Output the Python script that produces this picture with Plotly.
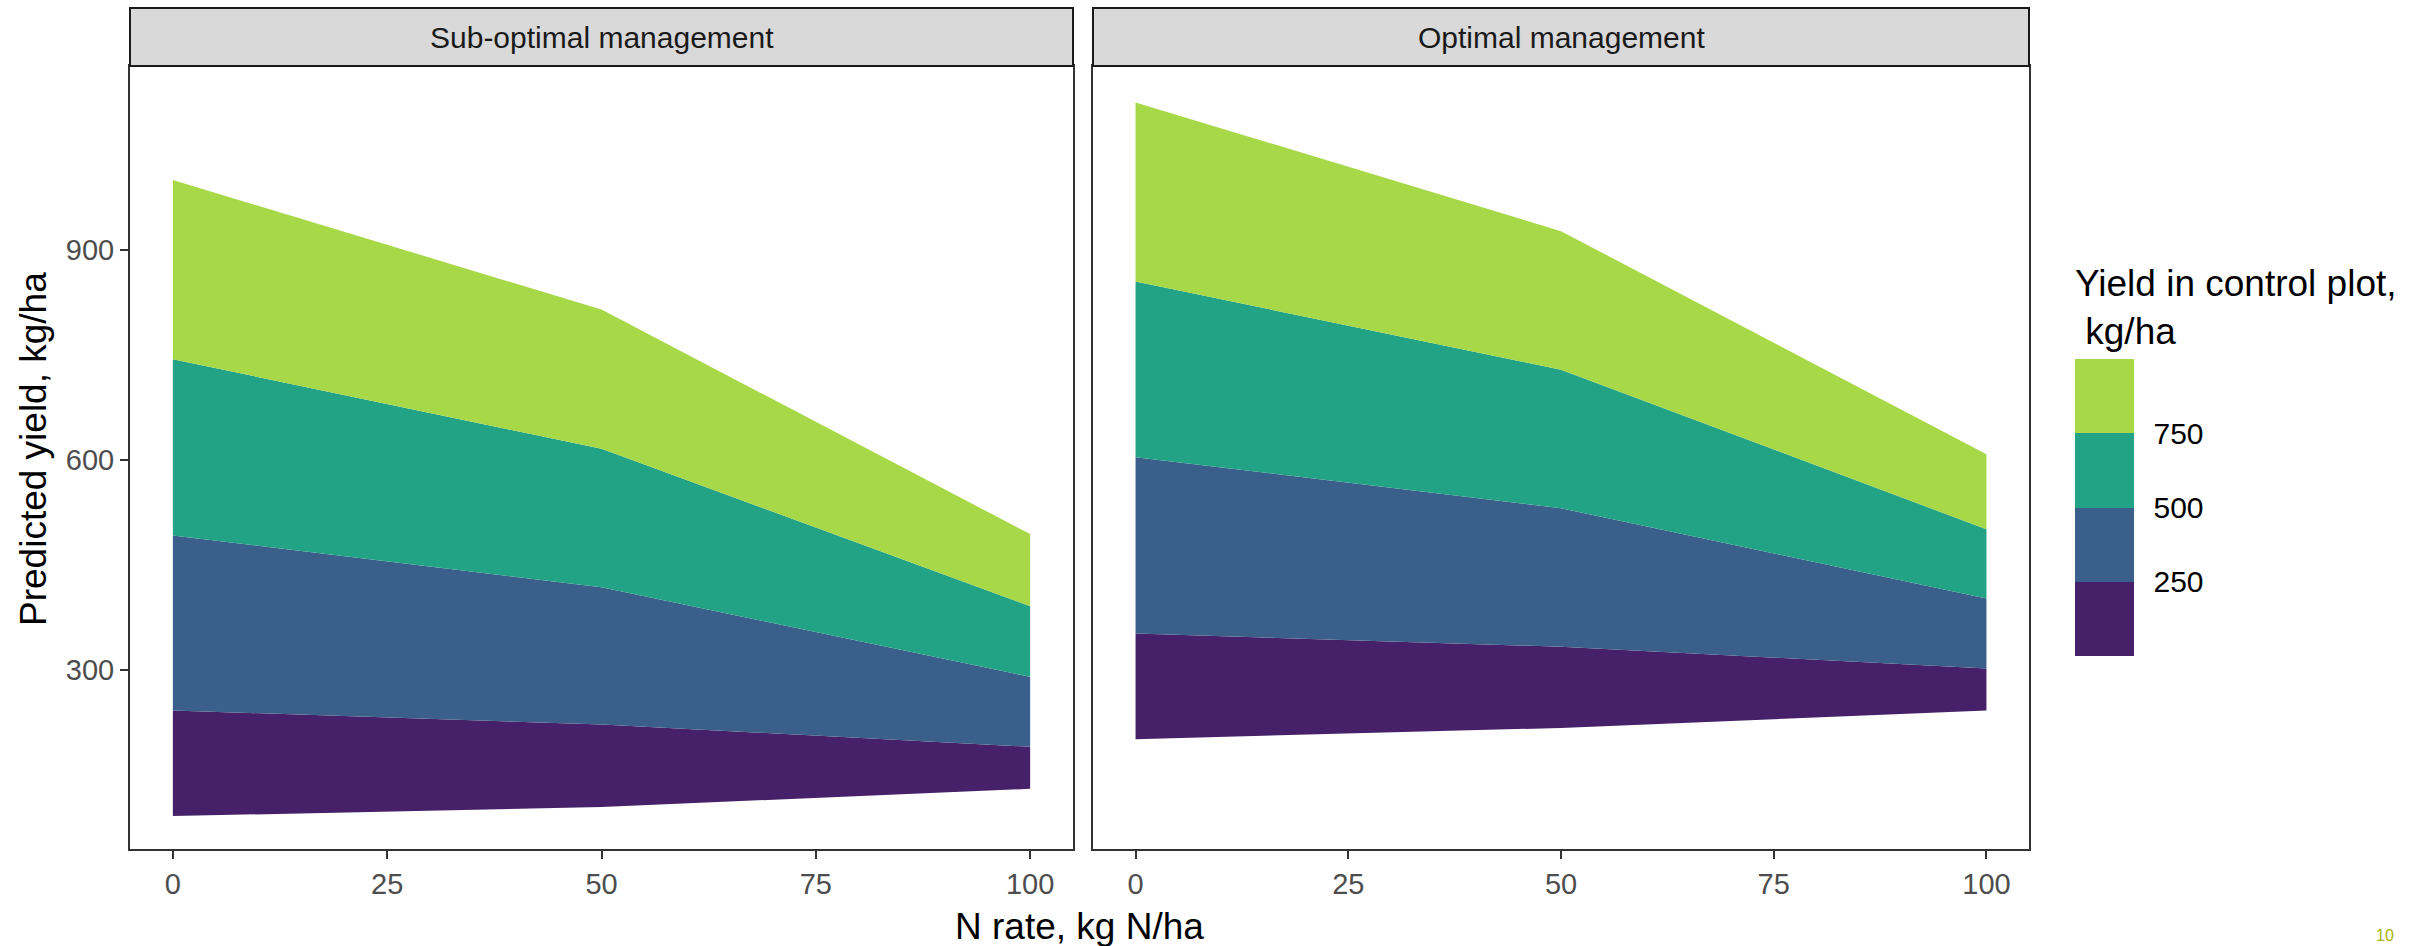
import plotly.graph_objects as go

# ---------------- data ----------------
N_RATE = [0, 50, 100]

# boundaries of the yield bands (lowest line -> highest line), kg/ha
SUB_LINES = [
    [91, 104, 130],
    [242, 222, 190],
    [492, 418, 290],
    [744, 616, 391],
    [1000, 815, 494],
]
OPT_LINES = [
    [201, 217, 242],
    [352, 333, 302],
    [604, 531, 402],
    [855, 729, 501],
    [1111, 927, 608],
]

PANELS = ["Sub-optimal management", "Optimal management"]
BAND_COLORS = ["#462169", "#3B5F8B", "#22A385", "#A7D848"]
LEGEND_BREAKS = [250, 500, 750]
LEGEND_LIMITS = [0, 1000]
X_TICKS = [0, 25, 50, 75, 100]
Y_TICKS = [300, 600, 900]

# ---------------- layout geometry ----------------
W, H = 2433, 946
FONT = "Liberation Sans, Arial, sans-serif"


def px_x(p):
    return p / W


def px_y(p):
    return 1 - p / H


panel_x = [(130, 1073), (1093, 2029)]
panel_top, panel_bot = 66, 849
strip_top = 8

fig = go.Figure()

for i, lines in enumerate([SUB_LINES, OPT_LINES]):
    xa = "x" if i == 0 else "x2"
    ya = "y" if i == 0 else "y2"
    for b in range(4):
        lo = lines[b]
        hi = lines[b + 1]
        xs = list(N_RATE) + list(reversed(N_RATE))
        ys = list(lo) + list(reversed(hi))
        fig.add_trace(go.Scatter(
            x=xs, y=ys, mode="lines", fill="toself",
            fillcolor=BAND_COLORS[b], line=dict(width=0, color=BAND_COLORS[b]),
            xaxis=xa, yaxis=ya, showlegend=False, hoverinfo="skip",
        ))

# stepped colour legend
n = len(BAND_COLORS)
cscale = []
for k, c in enumerate(BAND_COLORS):
    cscale.append([k / n, c])
    cscale.append([(k + 1) / n, c])

fig.add_trace(go.Scatter(
    x=[None], y=[None], mode="markers", showlegend=False, hoverinfo="skip",
    marker=dict(
        color=[LEGEND_LIMITS[0], LEGEND_LIMITS[1]], cmin=LEGEND_LIMITS[0], cmax=LEGEND_LIMITS[1],
        colorscale=cscale, showscale=True, opacity=0,
        colorbar=dict(
            title=dict(text="Yield in control plot,<br>\u00a0kg/ha", side="top",
                       font=dict(size=37, color="black", family=FONT)),
            thickness=59, thicknessmode="pixels",
            len=391, lenmode="pixels",
            x=px_x(2075), xanchor="left", xpad=0,
            y=px_y(656), yanchor="bottom", ypad=0,
            outlinewidth=0,
            tickvals=LEGEND_BREAKS, ticktext=[str(v) for v in LEGEND_BREAKS],
            ticks="outside", ticklen=14, tickcolor="rgba(0,0,0,0)",
            tickfont=dict(size=30, color="black", family=FONT),
        ),
    ),
))

axis_common = dict(
    showgrid=False, zeroline=False, showline=True, mirror=True,
    linecolor="#333333", linewidth=2,
    ticks="outside", ticklen=8, tickwidth=2, tickcolor="#333333",
    tickfont=dict(size=29, color="#4D4D4D", family=FONT),
)

fig.update_layout(
    width=W, height=H, autosize=False,
    margin=dict(l=0, r=0, t=0, b=0),
    paper_bgcolor="white", plot_bgcolor="white",
    font=dict(family=FONT),
    xaxis=dict(domain=[px_x(panel_x[0][0]), px_x(panel_x[0][1])], range=[-5, 105],
               tickvals=X_TICKS, anchor="y", **axis_common),
    yaxis=dict(domain=[px_y(panel_bot), px_y(panel_top)], range=[44, 1163],
               tickvals=Y_TICKS, anchor="x", **axis_common),
    xaxis2=dict(domain=[px_x(panel_x[1][0]), px_x(panel_x[1][1])], range=[-5, 105],
                tickvals=X_TICKS, anchor="y2", **axis_common),
    yaxis2=dict(domain=[px_y(panel_bot), px_y(panel_top)], range=[44, 1163],
                anchor="x2", showticklabels=False,
                **{k: v for k, v in axis_common.items() if k not in ("ticks",)}, ticks=""),
)

shapes = []
annotations = []
for i, (x0, x1) in enumerate(panel_x):
    shapes.append(dict(type="rect", xref="paper", yref="paper",
                       x0=px_x(x0), x1=px_x(x1), y0=px_y(panel_top), y1=px_y(strip_top),
                       fillcolor="#D9D9D9", line=dict(color="#1A1A1A", width=2), layer="above"))
    annotations.append(dict(text=PANELS[i], xref="paper", yref="paper",
                            x=px_x((x0 + x1) / 2), y=px_y((panel_top + strip_top) / 2),
                            xanchor="center", yanchor="middle", showarrow=False,
                            font=dict(size=30, color="#1A1A1A", family=FONT)))

annotations.append(dict(text="N rate, kg N/ha", xref="paper", yref="paper",
                        x=px_x((panel_x[0][0] + panel_x[1][1]) / 2), y=px_y(926),
                        xanchor="center", yanchor="middle", showarrow=False,
                        font=dict(size=37, color="black", family=FONT)))
annotations.append(dict(text="Predicted yield, kg/ha", xref="paper", yref="paper",
                        x=px_x(34), y=px_y(449), textangle=-90,
                        xanchor="center", yanchor="middle", showarrow=False,
                        font=dict(size=37, color="black", family=FONT)))
annotations.append(dict(text="10", xref="paper", yref="paper",
                        x=px_x(2374), y=px_y(946), xanchor="left", yanchor="bottom",
                        showarrow=False, font=dict(size=16, color="#A9B400", family=FONT)))

fig.update_layout(shapes=shapes, annotations=annotations)

fig.write_html("out.html")
